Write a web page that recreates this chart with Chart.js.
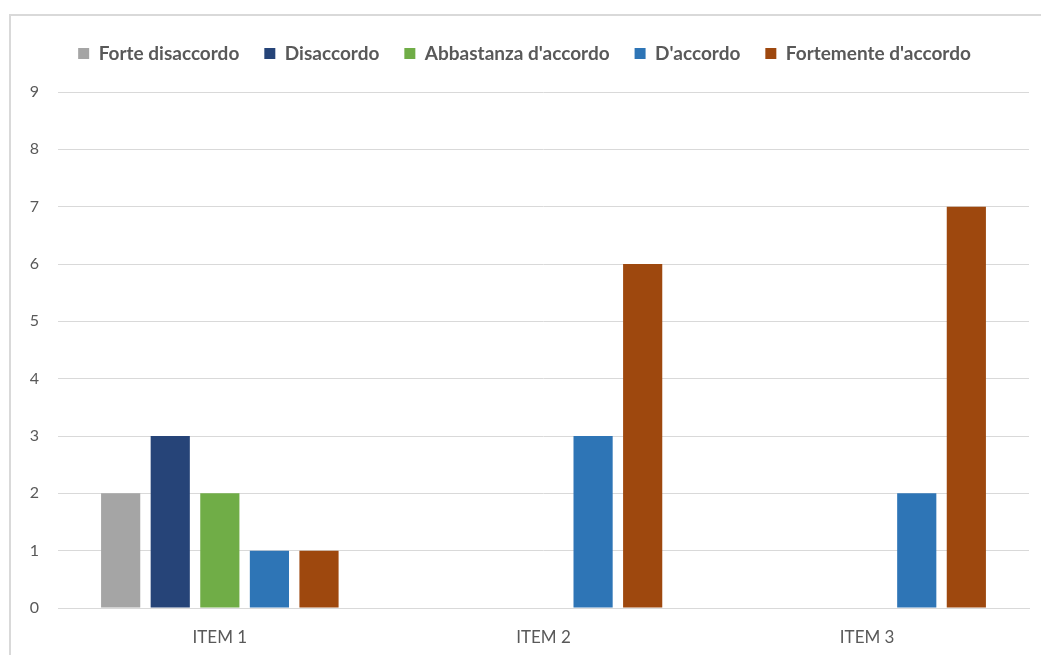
<!DOCTYPE html>
<html>
<head>
<meta charset="utf-8">
<script src="https://cdn.jsdelivr.net/npm/chart.js@4"></script>
<style>
  html, body { margin: 0; padding: 0; background: #fff; }
  #wrap { width: 1041px; height: 655px; }
</style>
</head>
<body>
<div id="wrap"><canvas id="myChart"></canvas></div>
<script>
const items = ['ITEM 1', 'ITEM 2', 'ITEM 3'];
const seriesNames = ['Forte disaccordo', 'Disaccordo', "Abbastanza d'accordo", "D'accordo", "Fortemente d'accordo"];
const forteDisaccordo = [2, 0, 0];
const disaccordo = [3, 0, 0];
const abbastanza = [2, 0, 0];
const daccordo = [1, 3, 2];
const fortemente = [1, 6, 7];
const yTicks = [0, 1, 2, 3, 4, 5, 6, 7, 8, 9];

const colors = ['#A5A5A5', '#264478', '#70AD47', '#2E75B6', '#9E480E'];
const values = [forteDisaccordo, disaccordo, abbastanza, daccordo, fortemente];

// bordo grigio chiaro attorno al grafico
const chartBorder = {
  id: 'chartBorder',
  beforeDraw: (chart) => {
    const ctx = chart.ctx;
    ctx.save();
    ctx.strokeStyle = '#d9d9d9';
    ctx.lineWidth = 2;
    ctx.strokeRect(10, 15, 1100, 700);
    ctx.restore();
  }
};

// altezza fissa per la legenda
const legendHeight = {
  id: 'legendHeight',
  beforeInit: (chart) => {
    const fit = chart.legend.fit;
    chart.legend.fit = function () {
      fit.bind(chart.legend)();
      this.height = 73;
    };
  }
};

let ctxEl = document.getElementById('myChart');
let myChart = new Chart(ctxEl, {
  type: 'bar',
  data: {
    labels: items,
    datasets: seriesNames.map((name, i) => ({
      label: name,
      data: values[i],
      backgroundColor: colors[i],
      borderWidth: 0,
      barPercentage: 0.79,
      categoryPercentage: 0.766
    }))
  },
  options: {
    responsive: true,
    maintainAspectRatio: false,
    animation: false,
    layout: { padding: { top: 19, left: 20, right: 12, bottom: 0 } },
    plugins: {
      tooltip: { enabled: false },
      legend: {
        position: 'top',
        labels: {
          boxWidth: 11,
          boxHeight: 11,
          padding: 25,
          color: '#595959',
          font: { family: 'Lato, sans-serif', size: 19, weight: 'bold' }
        }
      }
    },
    scales: {
      x: {
        afterFit: (scale) => { scale.height = 47; },
        grid: { display: false },
        border: { color: '#d9d9d9' },
        ticks: {
          padding: 11,
          color: '#595959',
          font: { family: 'Lato, sans-serif', size: 17 }
        }
      },
      y: {
        min: yTicks[0],
        max: yTicks[yTicks.length - 1],
        afterFit: (scale) => { scale.width = 38; },
        afterBuildTicks: (scale) => { scale.ticks = yTicks.map(v => ({ value: v })); },
        border: { display: false },
        grid: { color: '#d9d9d9', drawTicks: false },
        ticks: {
          padding: 19,
          color: '#595959',
          font: { family: 'Lato, sans-serif', size: 16 }
        }
      }
    }
  },
  plugins: [chartBorder, legendHeight]
});
</script>
</body>
</html>
